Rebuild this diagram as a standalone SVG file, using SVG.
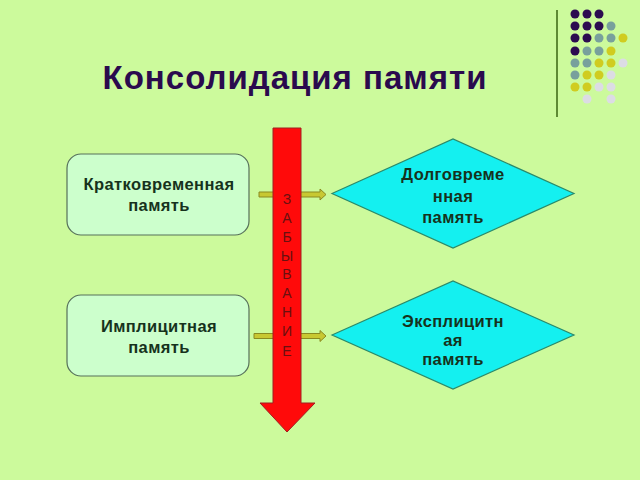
<svg xmlns="http://www.w3.org/2000/svg" width="640" height="480" viewBox="0 0 640 480">
<defs>
<style>
.t{font-family:"Liberation Sans",Arial,sans-serif;font-size:16.5px;font-weight:bold;letter-spacing:0.4px;fill:#16321c;text-anchor:middle}
.box{fill:#ccffcc;stroke:#56705a;stroke-width:1.2}
.dia{fill:#14f0f0;stroke:#2a8a6a;stroke-width:1.2}
.arr{fill:#c8c832;stroke:#8a8a20;stroke-width:1}
.p{fill:#2c0c50}.g{fill:#78a09c}.y{fill:#d0cc20}.l{fill:#dcdce4}
.z{font-family:"Liberation Sans",Arial,sans-serif;font-size:14px;fill:#6a1010;text-anchor:middle}
</style>
</defs>
<rect width="640" height="480" fill="#ccfa9c"/>
<g id="decor">
<line x1="557" y1="10" x2="557" y2="117" stroke="#5e8a34" stroke-width="2"/>
<circle class="p" cx="575" cy="14" r="4.5"/><circle class="p" cx="587" cy="14" r="4.5"/><circle class="p" cx="599" cy="14" r="4.5"/>
<circle class="p" cx="575" cy="26" r="4.5"/><circle class="p" cx="587" cy="26" r="4.5"/><circle class="p" cx="599" cy="26" r="4.5"/><circle class="g" cx="611" cy="26" r="4.5"/>
<circle class="p" cx="575" cy="38" r="4.5"/><circle class="p" cx="587" cy="38" r="4.5"/><circle class="g" cx="599" cy="38" r="4.5"/><circle class="g" cx="611" cy="38" r="4.5"/><circle class="y" cx="623" cy="38" r="4.5"/>
<circle class="p" cx="575" cy="51" r="4.5"/><circle class="g" cx="587" cy="51" r="4.5"/><circle class="g" cx="599" cy="51" r="4.5"/><circle class="y" cx="611" cy="51" r="4.5"/>
<circle class="g" cx="575" cy="63" r="4.5"/><circle class="g" cx="587" cy="63" r="4.5"/><circle class="y" cx="599" cy="63" r="4.5"/><circle class="y" cx="611" cy="63" r="4.5"/><circle class="l" cx="623" cy="63" r="4.5"/>
<circle class="g" cx="575" cy="75" r="4.5"/><circle class="y" cx="587" cy="75" r="4.5"/><circle class="y" cx="599" cy="75" r="4.5"/><circle class="l" cx="611" cy="75" r="4.5"/>
<circle class="y" cx="575" cy="87" r="4.5"/><circle class="y" cx="587" cy="87" r="4.5"/><circle class="l" cx="599" cy="87" r="4.5"/><circle class="l" cx="611" cy="87" r="4.5"/>
<circle class="l" cx="587" cy="99" r="4.5"/><circle class="l" cx="611" cy="99" r="4.5"/>
</g>
<text id="title" x="295" y="89" font-family="Liberation Sans,Arial,sans-serif" font-size="33" font-weight="bold" letter-spacing="1" fill="#2a0a4e" text-anchor="middle">Консолидация памяти</text>
<g id="connectors">
<polygon class="arr" points="259,192 320,192 320,189 326,194.5 320,200 320,197 259,197"/>
<polygon class="arr" points="254,333.5 320,333.5 320,330.5 326,336 320,341.5 320,338.5 254,338.5"/>
</g>
<g id="forgetting">
<polygon points="273,128 301,128 301,403 315,403 287,432 260,403 273,403" fill="#ff0a0a" stroke="#a02020" stroke-width="1"/>
<text class="z" x="287" y="204">З</text>
<text class="z" x="287" y="223">А</text>
<text class="z" x="287" y="242">Б</text>
<text class="z" x="287" y="261">Ы</text>
<text class="z" x="287" y="279">В</text>
<text class="z" x="287" y="298">А</text>
<text class="z" x="287" y="317">Н</text>
<text class="z" x="287" y="336">И</text>
<text class="z" x="287" y="356">Е</text>
</g>
<g id="short-term">
<rect class="box" x="67" y="154" width="182" height="81" rx="14"/>
<text class="t" x="159" y="190">Кратковременная</text>
<text class="t" x="159" y="211">память</text>
</g>
<g id="implicit">
<rect class="box" x="67" y="295" width="182" height="81" rx="14"/>
<text class="t" x="159" y="332">Имплицитная</text>
<text class="t" x="159" y="353">память</text>
</g>
<g id="long-term">
<polygon class="dia" points="332,193.5 453,139 574,193.5 453,248"/>
<text class="t" x="453" y="180">Долговреме</text>
<text class="t" x="453" y="202">нная</text>
<text class="t" x="453" y="223">память</text>
</g>
<g id="explicit">
<polygon class="dia" points="332,335 453,281 574,335 453,389"/>
<text class="t" x="453" y="327">Эксплицитн</text>
<text class="t" x="453" y="346">ая</text>
<text class="t" x="453" y="365">память</text>
</g>
</svg>
